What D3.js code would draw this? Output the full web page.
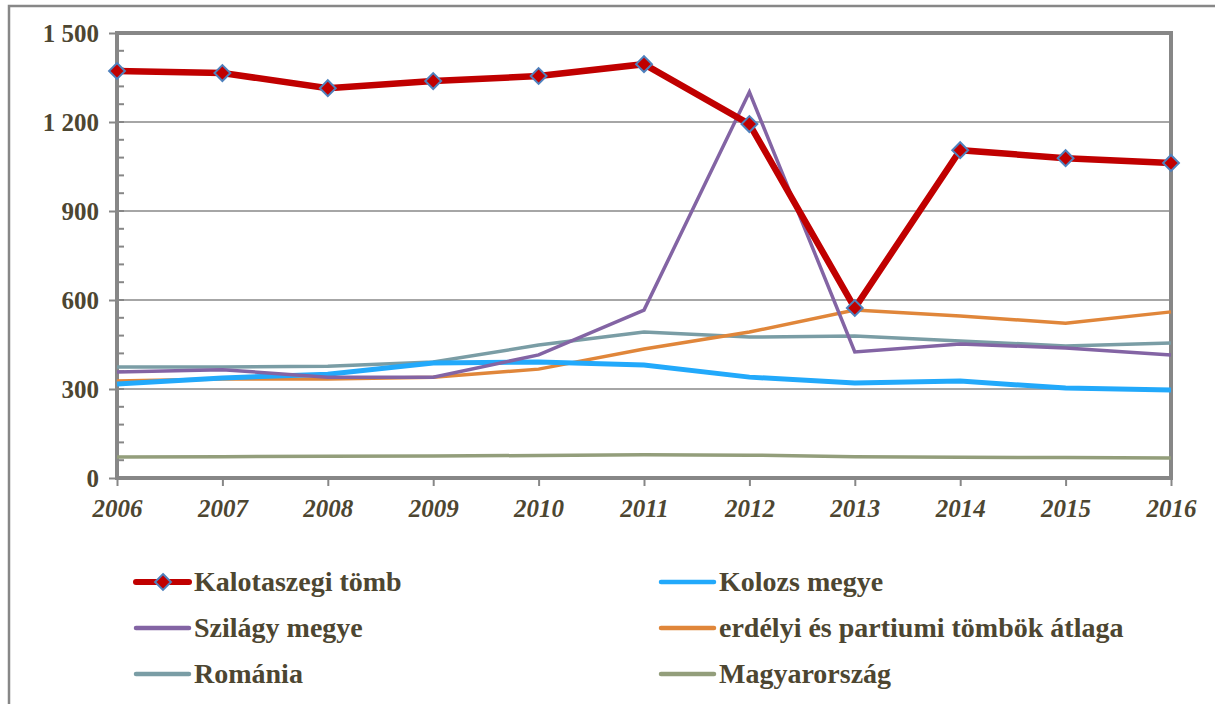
<!doctype html>
<html>
<head>
<meta charset="UTF-8">
<title>Kalotaszegi tömb</title>
<script src="https://d3js.org/d3.v7.min.js"></script>
<style>
  body { margin: 0; background: #fff; }
  text { font-family: "Liberation Serif", "Times New Roman", serif; font-weight: bold; fill: #4d4631; }
</style>
</head>
<body>
<svg id="chart" width="1215" height="704"></svg>
<script>
var years = [2006, 2007, 2008, 2009, 2010, 2011, 2012, 2013, 2014, 2015, 2016];
var yTicks = [0, 300, 600, 900, 1200, 1500];

var kalotaszeg = [1372, 1365, 1314, 1338, 1355, 1395, 1193, 573, 1105, 1078, 1062];
var kolozs     = [317, 337, 350, 388, 391, 381, 340, 320, 327, 303, 297];
var szilagy    = [357, 365, 340, 340, 415, 566, 1301, 425, 452, 438, 415];
var erdelyi    = [327, 334, 334, 340, 367, 435, 492, 566, 546, 522, 560];
var romania    = [374, 374, 377, 391, 448, 492, 475, 479, 462, 445, 455];
var magyar     = [71, 72, 73, 74, 76, 78, 77, 72, 70, 69, 67];

var series = [
    {name: "Magyarország", values: magyar, color: "#939e7b", width: 3.5},
    {name: "Románia", values: romania, color: "#7a9da5", width: 3.5},
    {name: "erdélyi és partiumi tömbök átlaga", values: erdelyi, color: "#e0863a", width: 3.5},
    {name: "Kolozs megye", values: kolozs, color: "#22a9fb", width: 5},
    {name: "Szilágy megye", values: szilagy, color: "#8364a4", width: 3.5},
    {name: "Kalotaszegi tömb", values: kalotaszeg, color: "#c00000", width: 6.5, marker: true}
];
var legendOrder = ["Kalotaszegi tömb", "Kolozs megye", "Szilágy megye",
                   "erdélyi és partiumi tömbök átlaga", "Románia", "Magyarország"];

var svg = d3.select("#chart");
var pLeft = 117, pRight = 1171, pTop = 33, pBottom = 478;

var x = d3.scalePoint().domain(years).range([pLeft, pRight]);
var y = d3.scaleLinear().domain([0, 1500]).range([pBottom, pTop]);

// outer chart border (left and top only visible)
svg.append("path")
    .attr("d", "M9,704 L9,6 L1215,6")
    .attr("fill", "none").attr("stroke", "#878787").attr("stroke-width", 2.5);

// gridlines
svg.append("g").selectAll("line").data(yTicks.slice(1, -1)).join("line")
    .attr("x1", pLeft).attr("x2", pRight)
    .attr("y1", function(d) { return y(d); }).attr("y2", function(d) { return y(d); })
    .attr("stroke", "#a6a6a6").attr("stroke-width", 2);

// plot border top/right
svg.append("path")
    .attr("d", "M" + pLeft + "," + pTop + " L" + pRight + "," + pTop + " L" + pRight + "," + pBottom)
    .attr("fill", "none").attr("stroke", "#878787").attr("stroke-width", 4);

// minor ticks (inside)
svg.append("g").selectAll("line").data(d3.range(0, 1501, 60)).join("line")
    .attr("x1", pLeft).attr("x2", pLeft + 7)
    .attr("y1", function(d) { return y(d); }).attr("y2", function(d) { return y(d); })
    .attr("stroke", "#878787").attr("stroke-width", 2);

// y axis
var yAxis = svg.append("g").attr("transform", "translate(" + pLeft + ",0)")
    .call(d3.axisLeft(y).tickValues(yTicks).tickSize(8).tickPadding(10)
        .tickFormat(function(d) { return d >= 1000 ? Math.floor(d / 1000) + " " + d3.format("03d")(d % 1000) : d; }));
yAxis.select(".domain").remove();
yAxis.selectAll("line").attr("stroke", "#878787").attr("stroke-width", 2);
yAxis.selectAll("text").style("font-size", "25px").attr("dy", "0.33em");
svg.append("line").attr("x1", pLeft).attr("x2", pLeft).attr("y1", pTop - 2).attr("y2", pBottom + 2)
    .attr("stroke", "#878787").attr("stroke-width", 4);

// x axis
var xAxis = svg.append("g").attr("transform", "translate(0," + pBottom + ")")
    .call(d3.axisBottom(x).tickSize(8).tickPadding(10));
xAxis.select(".domain").remove();
xAxis.selectAll("line").attr("stroke", "#878787").attr("stroke-width", 2);
xAxis.selectAll("text").style("font-size", "25px").style("font-style", "italic").attr("dy", "0.85em");
svg.append("line").attr("x1", pLeft - 2).attr("x2", pRight + 2).attr("y1", pBottom).attr("y2", pBottom)
    .attr("stroke", "#878787").attr("stroke-width", 4);

// lines
var line = d3.line()
    .x(function(d, i) { return x(years[i]); })
    .y(function(d) { return y(d); });

series.forEach(function(s) {
    svg.append("path").datum(s.values)
        .attr("d", line)
        .attr("fill", "none")
        .attr("stroke", s.color)
        .attr("stroke-width", s.width)
        .attr("stroke-linejoin", "miter");
    if (s.marker) {
        svg.append("g").selectAll("path").data(s.values).join("path")
            .attr("d", d3.symbol(d3.symbolDiamond2, 160))
            .attr("transform", function(d, i) { return "translate(" + x(years[i]) + "," + y(d) + ")"; })
            .attr("fill", "#c00000").attr("stroke", "#4f81bd").attr("stroke-width", 2);
    }
});

// legend
var byName = {};
series.forEach(function(s) { byName[s.name] = s; });
var legend = svg.append("g");
legendOrder.forEach(function(name, i) {
    var s = byName[name];
    var col = i % 2, row = Math.floor(i / 2);
    var lx = col === 0 ? 136 : 661;
    var ly = 582 + row * 46;
    legend.append("line")
        .attr("x1", lx).attr("x2", lx + 53).attr("y1", ly).attr("y2", ly)
        .attr("stroke", s.color).attr("stroke-width", s.marker ? 6 : 4.5)
        .attr("stroke-linecap", "round");
    if (s.marker) {
        legend.append("path").attr("d", d3.symbol(d3.symbolDiamond2, 160))
            .attr("transform", "translate(" + (lx + 27) + "," + ly + ")")
            .attr("fill", "#c00000").attr("stroke", "#4f81bd").attr("stroke-width", 2);
    }
    legend.append("text").attr("x", lx + 58).attr("y", ly).attr("dy", "0.33em")
        .style("font-size", "28px").text(name);
});
</script>
</body>
</html>
